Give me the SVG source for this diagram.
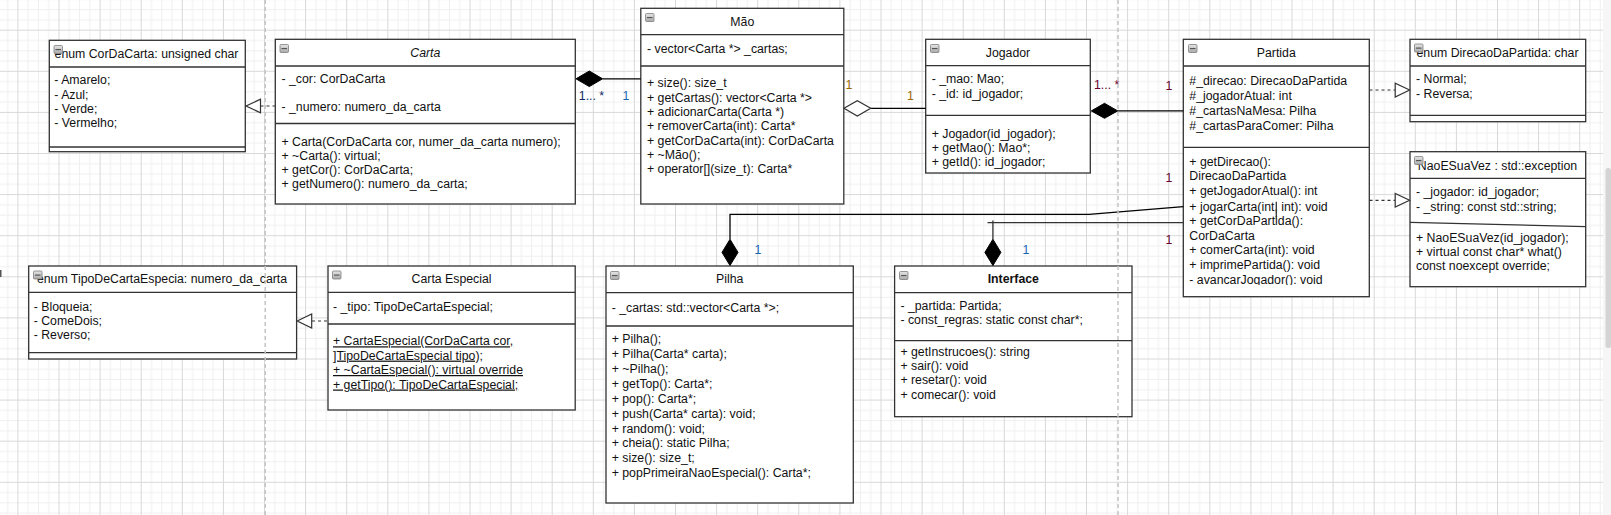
<svg xmlns="http://www.w3.org/2000/svg" width="1611" height="515" viewBox="0 0 1611 515">
<defs>
<pattern id="grid" patternUnits="userSpaceOnUse" x="17.4" y="29.7" width="41.1" height="41.1">
<path d="M10.775 0V41.1M21.05 0V41.1M31.325 0V41.1M0 10.775H41.1M0 21.05H41.1M0 31.325H41.1" stroke="#efefef" stroke-width="1" fill="none"/>
<path d="M0.5 0V41.1M0 0.5H41.1" stroke="#d8d8d8" stroke-width="1" fill="none"/>
</pattern>
<linearGradient id="icoGrad" x1="0" y1="0" x2="0" y2="1">
<stop offset="0" stop-color="#e6e6e6"/><stop offset="1" stop-color="#a9a9a9"/>
</linearGradient>
<g id="ico">
<rect x="0.5" y="0.5" width="8.5" height="8" rx="1" fill="url(#icoGrad)" stroke="#7d7d7d" stroke-width="0.8"/>
<line x1="2" y1="4.6" x2="7.5" y2="4.6" stroke="#505050" stroke-width="1.1"/>
</g>
<clipPath id="partidaClip"><rect x="1183" y="39" width="187" height="246"/></clipPath>
<style>
.box{fill:#fff;stroke:#333;stroke-width:1.3}
.sep{stroke:#333;stroke-width:1.3;fill:none}
text{font-family:"Liberation Sans",Arial,sans-serif;font-size:12.3px;fill:#111}
.c{text-anchor:middle}
.it{font-style:italic}
.b{font-weight:bold}
.u{text-decoration:underline}
.edge{stroke:#000;stroke-width:1.3;fill:none}
.edge2{stroke:#333;stroke-width:1.3;fill:none}
.dash{stroke:#333;stroke-width:1.2;stroke-dasharray:3 3;fill:none}
.tri{fill:#fff;stroke:#333;stroke-width:1.2}
.dia{fill:#000;stroke:#000;stroke-width:1}
.hdia{fill:#fff;stroke:#333;stroke-width:1.2}
.guide{stroke:#c4c4c4;stroke-width:1.5;stroke-dasharray:4 3;fill:none}
.navy{fill:#0b2a66}
.blue{fill:#1565b5}
.brown{fill:#9a6a00}
.maroon{fill:#6b0030}
</style>
</defs>

<rect x="0" y="0" width="1611" height="515" fill="#fff"/>
<rect x="0" y="0" width="1603" height="515" fill="url(#grid)"/>
<rect x="1603" y="0" width="8" height="515" fill="#f6f6f6"/>
<rect x="1605.5" y="168" width="5.5" height="180" rx="2.5" fill="#d4d4d4"/>
<rect x="0" y="270" width="1.5" height="7" fill="#555"/>

<g id="enum-CorDaCarta">
<rect class="box" x="49.3" y="40.3" width="196" height="111.4"/>
<line class="sep" x1="49.3" y1="67" x2="245.3" y2="67"/>
<line class="sep" x1="49.3" y1="147" x2="245.3" y2="147"/>
<text class="c" x="146.5" y="57.5">enum CorDaCarta: unsigned char</text>
<use href="#ico" x="53.5" y="45"/>
<text x="54.3" y="84.3">- Amarelo;</text>
<text x="54.3" y="98.7">- Azul;</text>
<text x="54.3" y="113">- Verde;</text>
<text x="54.3" y="127.3">- Vermelho;</text>
</g>

<g id="Carta">
<rect class="box" x="275.3" y="39.3" width="300" height="164.7"/>
<line class="sep" x1="275.3" y1="66" x2="575.3" y2="66"/>
<line class="sep" x1="275.3" y1="123.5" x2="575.3" y2="123.5"/>
<text class="c it" x="425.3" y="57">Carta</text>
<use href="#ico" x="279.5" y="44"/>
<text x="281.5" y="83.3">- _cor: CorDaCarta</text>
<text x="281.5" y="110.7">- _numero: numero_da_carta</text>
<text x="281.5" y="145.7">+ Carta(CorDaCarta cor, numer_da_carta numero);</text>
<text x="281.5" y="159.8">+ ~Carta(): virtual;</text>
<text x="281.5" y="174">+ getCor(): CorDaCarta;</text>
<text x="281.5" y="188.3">+ getNumero(): numero_da_carta;</text>
</g>

<g id="Mao">
<rect class="box" x="640.8" y="8.3" width="203" height="195.7"/>
<line class="sep" x1="640.8" y1="34.7" x2="843.8" y2="34.7"/>
<line class="sep" x1="640.8" y1="66" x2="843.8" y2="66"/>
<text class="c" x="742.3" y="25.5">Mão</text>
<use href="#ico" x="645" y="13"/>
<text x="647" y="52.7">- vector&lt;Carta *&gt; _cartas;</text>
<text x="647" y="87.3">+ size(): size_t</text>
<text x="647" y="101.6">+ getCartas(): vector&lt;Carta *&gt;</text>
<text x="647" y="116">+ adicionarCarta(Carta *)</text>
<text x="647" y="130.3">+ removerCarta(int): Carta*</text>
<text x="647" y="144.6">+ getCorDaCarta(int): CorDaCarta</text>
<text x="647" y="159">+ ~Mão();</text>
<text x="647" y="173.3">+ operator[](size_t): Carta*</text>
</g>

<g id="Jogador">
<rect class="box" x="925.7" y="39.3" width="164.6" height="133.7"/>
<line class="sep" x1="925.7" y1="65.7" x2="1090.3" y2="65.7"/>
<line class="sep" x1="925.7" y1="115.3" x2="1090.3" y2="115.3"/>
<text class="c" x="1008" y="56.7">Jogador</text>
<use href="#ico" x="930" y="44"/>
<text x="931.7" y="83.3">- _mao: Mao;</text>
<text x="931.7" y="97.7">- _id: id_jogador;</text>
<text x="931.7" y="137.7">+ Jogador(id_jogador);</text>
<text x="931.7" y="152">+ getMao(): Mao*;</text>
<text x="931.7" y="166.3">+ getId(): id_jogador;</text>
</g>

<g id="Partida">
<rect class="box" x="1183.3" y="39.3" width="186" height="257.4"/>
<line class="sep" x1="1183.3" y1="66" x2="1369.3" y2="66"/>
<line class="sep" x1="1183.3" y1="147.3" x2="1369.3" y2="147.3"/>
<text class="c" x="1276.3" y="56.7">Partida</text>
<use href="#ico" x="1188" y="44"/>
<text x="1189.3" y="84.7">#_direcao: DirecaoDaPartida</text>
<text x="1189.3" y="99.7">#_jogadorAtual: int</text>
<text x="1189.3" y="114.7">#_cartasNaMesa: Pilha</text>
<text x="1189.3" y="129.7">#_cartasParaComer: Pilha</text>
<g clip-path="url(#partidaClip)">
<text x="1189.3" y="165.7">+ getDirecao():</text>
<text x="1189.3" y="180.4">DirecaoDaPartida</text>
<text x="1189.3" y="195.3">+ getJogadorAtual(): int</text>
<text x="1189.3" y="210.5">+ jogarCarta(int, int): void</text>
<text x="1189.3" y="225.3">+ getCorDaPartida():</text>
<text x="1189.3" y="239.8">CorDaCarta</text>
<text x="1189.3" y="254.4">+ comerCarta(int): void</text>
<text x="1189.3" y="269.3">+ imprimePartida(): void</text>
<text x="1189.3" y="284">- avancarJogador(): void</text>
</g>
</g>

<g id="enum-DirecaoDaPartida">
<rect class="box" x="1410" y="39.3" width="175.7" height="82.4"/>
<line class="sep" x1="1410" y1="66" x2="1585.7" y2="66"/>
<line class="sep" x1="1410" y1="115.3" x2="1585.7" y2="115.3"/>
<text class="c" x="1497.5" y="56.7">enum DirecaoDaPartida: char</text>
<use href="#ico" x="1414" y="43.5"/>
<text x="1416" y="83.3">- Normal;</text>
<text x="1416" y="97.7">- Reversa;</text>
</g>

<g id="NaoESuaVez">
<rect class="box" x="1410" y="151.7" width="175.7" height="135"/>
<line class="sep" x1="1410" y1="178.3" x2="1585.7" y2="178.3"/>
<line class="sep" x1="1410" y1="222.3" x2="1585.7" y2="226.7"/>
<text class="c" x="1497.5" y="170">NaoESuaVez : std::exception</text>
<use href="#ico" x="1414" y="156"/>
<text x="1416" y="195.7">- _jogador: id_jogador;</text>
<text x="1416" y="210.7">- _string: const std::string;</text>
<text x="1416" y="241.7">+ NaoESuaVez(id_jogador);</text>
<text x="1416" y="255.9">+ virtual const char* what()</text>
<text x="1416" y="270.3">const noexcept override;</text>
</g>

<g id="enum-TipoDeCartaEspecia">
<rect class="box" x="28.7" y="266" width="267.9" height="93"/>
<line class="sep" x1="28.7" y1="292.3" x2="296.6" y2="292.3"/>
<line class="sep" x1="28.7" y1="352.7" x2="296.6" y2="352.7"/>
<text class="c" x="162" y="283.3">enum TipoDeCartaEspecia: numero_da_carta</text>
<use href="#ico" x="33" y="270.5"/>
<text x="33.7" y="310.7">- Bloqueia;</text>
<text x="33.7" y="325">- ComeDois;</text>
<text x="33.7" y="339.3">- Reverso;</text>
</g>

<g id="CartaEspecial">
<rect class="box" x="328" y="266" width="247.2" height="144"/>
<line class="sep" x1="328" y1="292.3" x2="575.2" y2="292.3"/>
<line class="sep" x1="328" y1="324" x2="575.2" y2="324"/>
<text class="c" x="451.6" y="283.3">Carta Especial</text>
<use href="#ico" x="332" y="270.5"/>
<text x="333" y="310.7">- _tipo: TipoDeCartaEspecial;</text>
<text class="u" x="333" y="345.3">+ CartaEspecial(CorDaCarta cor,</text>
<text class="u" x="333" y="359.6">]TipoDeCartaEspecial tipo);</text>
<text class="u" x="333" y="374">+ ~CartaEspecial(): virtual override</text>
<text class="u" x="333" y="388.5">+ getTipo(): TipoDeCartaEspecial;</text>
</g>

<g id="Pilha">
<rect class="box" x="606" y="266" width="247.3" height="237"/>
<line class="sep" x1="606" y1="292.7" x2="853.3" y2="292.7"/>
<line class="sep" x1="606" y1="326" x2="853.3" y2="326"/>
<text class="c" x="729.7" y="283.3">Pilha</text>
<use href="#ico" x="610" y="271"/>
<text x="611.7" y="311.7">- _cartas: std::vector&lt;Carta *&gt;;</text>
<text x="611.7" y="343.3">+ Pilha();</text>
<text x="611.7" y="358.2">+ Pilha(Carta* carta);</text>
<text x="611.7" y="373">+ ~Pilha();</text>
<text x="611.7" y="387.8">+ getTop(): Carta*;</text>
<text x="611.7" y="402.7">+ pop(): Carta*;</text>
<text x="611.7" y="417.6">+ push(Carta* carta): void;</text>
<text x="611.7" y="432.5">+ random(): void;</text>
<text x="611.7" y="447.4">+ cheia(): static Pilha;</text>
<text x="611.7" y="462.3">+ size(): size_t;</text>
<text x="611.7" y="477.2">+ popPrimeiraNaoEspecial(): Carta*;</text>
</g>

<g id="Interface">
<rect class="box" x="894.6" y="266" width="237.4" height="150.7"/>
<line class="sep" x1="894.6" y1="292.7" x2="1132" y2="292.7"/>
<line class="sep" x1="894.6" y1="340.7" x2="1132" y2="340.7"/>
<text class="c b" x="1013.3" y="283.3">Interface</text>
<use href="#ico" x="899" y="271"/>
<text x="900.4" y="310">- _partida: Partida;</text>
<text x="900.4" y="324.3">- const_regras: static const char*;</text>
<text x="900.4" y="355.7">+ getInstrucoes(): string</text>
<text x="900.4" y="370">+ sair(): void</text>
<text x="900.4" y="384.3">+ resetar(): void</text>
<text x="900.4" y="398.7">+ comecar(): void</text>
</g>

<g id="connectors">
<line class="dash" x1="260.5" y1="106" x2="275.3" y2="106"/>
<polygon class="tri" points="246,106 260.5,99.2 260.5,112.8"/>
<line class="dash" x1="312" y1="321" x2="328" y2="321"/>
<polygon class="tri" points="297.2,321 311.7,314 311.7,328"/>
<line class="dash" x1="1369.5" y1="90" x2="1395.2" y2="90"/>
<polygon class="tri" points="1409.6,90 1395.2,83.3 1395.2,97"/>
<line class="dash" x1="1369.5" y1="200.3" x2="1395.2" y2="200.3"/>
<polygon class="tri" points="1409.6,200.3 1395.2,193.5 1395.2,207"/>
<line class="edge" x1="602.6" y1="78.8" x2="640.8" y2="78.8"/>
<polygon class="dia" points="576,78.8 589.3,71 602.6,78.8 589.3,86.6"/>
<line class="edge" x1="870.7" y1="108.3" x2="925.7" y2="108.3"/>
<polygon class="hdia" points="844,108.3 857.3,100.7 870.7,108.3 857.3,116"/>
<line class="edge" x1="1117.7" y1="110.9" x2="1183.3" y2="110.9"/>
<polygon class="dia" points="1091.3,110.9 1104.5,103.3 1117.7,110.9 1104.5,118.3"/>
<polyline class="edge" points="730,239.3 730,214.3 1089,214.3 1183.3,206.7"/>
<polygon class="dia" points="730,265.5 738,252.4 730,239.3 722,252.4"/>
<line class="edge2" x1="992.9" y1="239.3" x2="992.9" y2="220.5"/>
<line class="edge2" x1="987.5" y1="222.7" x2="1183.3" y2="222.7"/>
<polygon class="dia" points="992.9,265.5 1000.9,252.4 992.9,239.3 984.9,252.4"/>
<line class="edge2" x1="1276.3" y1="201.7" x2="1276.3" y2="218.3"/>
<text class="navy" x="578.8" y="100.4">1... *</text>
<text class="blue" x="622.5" y="100.4">1</text>
<text class="brown" x="845.5" y="89.4">1</text>
<text class="brown" x="907" y="100.4">1</text>
<text class="maroon" x="1094" y="89.4">1... *</text>
<text class="maroon" x="1165.5" y="89.6">1</text>
<text class="maroon" x="1165.5" y="182.2">1</text>
<text class="maroon" x="1165.5" y="243.8">1</text>
<text class="blue" x="754.5" y="253.7">1</text>
<text class="blue" x="1022.5" y="253.7">1</text>
</g>

<g id="guides">
<line class="guide" x1="265.2" y1="0" x2="265.2" y2="515"/>
<line class="guide" x1="1118" y1="0" x2="1118" y2="515"/>
</g>
</svg>
